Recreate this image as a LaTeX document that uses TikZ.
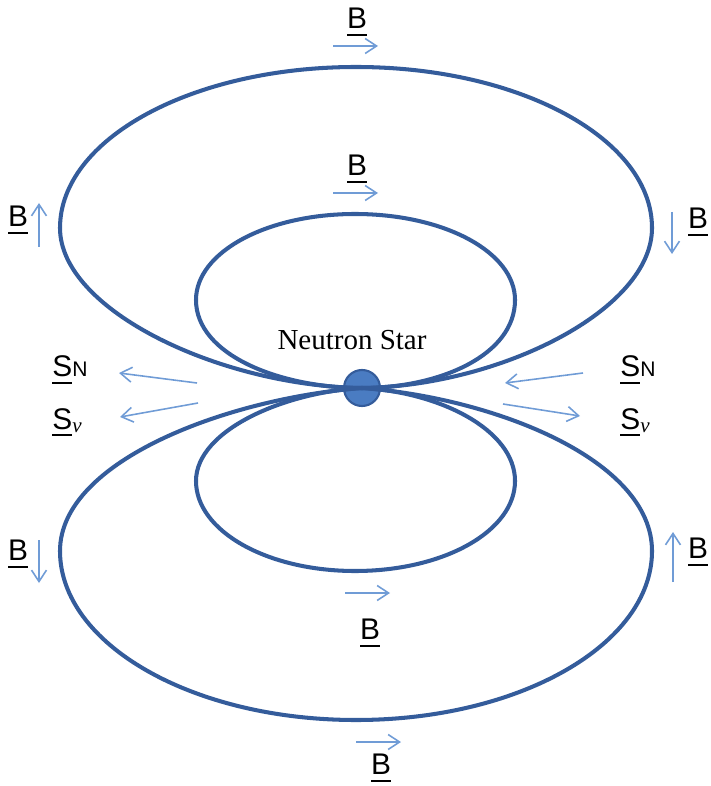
\documentclass[tikz,border=0pt]{standalone}
\usepackage{fontspec}
\setmainfont{Liberation Serif}
\setsansfont{Liberation Sans}
\usetikzlibrary{arrows.meta}
\definecolor{fieldblue}{RGB}{52,92,155}
\definecolor{starblue}{RGB}{74,124,194}
\definecolor{arrowblue}{RGB}{112,156,214}
\newcommand{\uvec}[1]{\setbox0\hbox{#1}\rlap{\rule[-4pt]{\wd0}{1.1pt}}\box0}
\newcommand{\fieldB}{\uvec{B}}

\begin{document}
\begin{tikzpicture}[x=0.02cm,y=-0.02cm,
  fieldline/.style={fieldblue,line width=2.3pt},
  flow/.style={arrowblue,line width=0.9pt,-{Straight Barb[length=6.5pt,width=8.5pt]}},
  vlabel/.style={font=\sffamily\fontsize{17}{17}\selectfont,inner sep=0pt},
  nstar/.style={circle,fill=starblue,draw=fieldblue,line width=1.2pt,minimum size=0.72cm,inner sep=0pt}]
\useasboundingbox (0,0) rectangle (710,786);
\node[nstar] (ns) at (362,388) {};
\node[font=\fontsize{16.5}{16.5}\selectfont,anchor=base,inner sep=0pt] (nslabel) at (352,350) {Neutron Star};
\draw[fieldline] (ns.center) .. controls (220,386) and (60,310) .. (60,228)
  .. controls (60,139) and (192,67) .. (356,67)
  .. controls (520,67) and (652,139) .. (652,228)
  .. controls (652,310) and (500,386) .. (ns.center);
\draw[fieldline] (ns.center) .. controls (280,388) and (196,355) .. (196,300)
  .. controls (196,252) and (267,214) .. (355,214)
  .. controls (444,214) and (515,252) .. (515,300)
  .. controls (515,355) and (440,388) .. (ns.center);
\draw[fieldline] (ns.center) .. controls (230,398) and (60,460) .. (60,551)
  .. controls (60,644) and (192,720) .. (356,720)
  .. controls (520,720) and (652,644) .. (652,551)
  .. controls (652,460) and (495,398) .. (ns.center);
\draw[fieldline] (ns.center) .. controls (285,392) and (196,430) .. (196,481)
  .. controls (196,531) and (267,571) .. (355,571)
  .. controls (444,571) and (515,531) .. (515,481)
  .. controls (515,430) and (440,392) .. (ns.center);
\node[vlabel] (btop) at (357,22) {\fieldB};
\draw[flow] (333,46) -- (378,46);
\node[vlabel] (binner) at (357,169) {\fieldB};
\draw[flow] (333,193) -- (378,193);
\node[vlabel] (bupleft) at (18,220) {\fieldB};
\draw[flow] (39,247) -- (39,203);
\node[vlabel] (bupright) at (698,222) {\fieldB};
\draw[flow] (672,212) -- (672,254);
\node[vlabel] (blowleft) at (18,554) {\fieldB};
\draw[flow] (39,540) -- (39,583);
\node[vlabel] (blowright) at (698,552) {\fieldB};
\draw[flow] (673,582) -- (673,532);
\draw[flow] (345,593) -- (390,593);
\node[vlabel] (binnerlow) at (370,633) {\fieldB};
\draw[flow] (356,742) -- (401,742);
\node[vlabel] (bbottom) at (381,768) {\fieldB};
\node[vlabel,anchor=base west] (snleft) at (52,377) {\uvec{S}{\fontsize{12}{12}\selectfont N}};
\node[vlabel,anchor=base west] (svleft) at (52,429) {\uvec{S}\raisebox{-2pt}{\fontsize{12}{12}\selectfont\rmfamily\itshape ν}};
\draw[flow] (197,383) -- (119,373);
\draw[flow] (198,403) -- (120,417);
\node[vlabel,anchor=base west] (snright) at (620,377) {\uvec{S}{\fontsize{12}{12}\selectfont N}};
\node[vlabel,anchor=base west] (svright) at (620,429) {\uvec{S}\raisebox{-2pt}{\fontsize{12}{12}\selectfont\rmfamily\itshape ν}};
\draw[flow] (583,373) -- (505,383);
\draw[flow] (503,404) -- (580,416);
\end{tikzpicture}
\end{document}
